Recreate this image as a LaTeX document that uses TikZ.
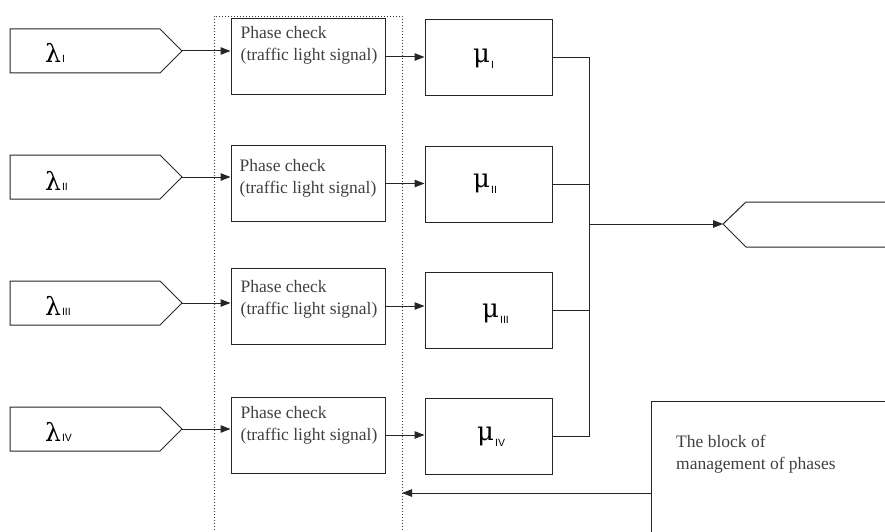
\documentclass[tikz,border=0pt]{standalone}
\usepackage{fontspec}
\setmainfont{Liberation Serif}
\newfontfamily\idxfont{Liberation Sans}
\newfontfamily\grkfont{DejaVu Serif}
\usetikzlibrary{arrows.meta}

% flow symbols with a roman index
\newcommand{\lamidx}[1]{{\grkfont\fontsize{25}{25}\selectfont λ}\kern1pt{\idxfont\fontsize{10.5}{10.5}\selectfont #1}}
\newcommand{\muidx}[1]{{\grkfont\fontsize{26}{26}\selectfont μ}\kern1pt\raisebox{-6pt}{\idxfont\fontsize{10.5}{10.5}\selectfont #1}}

\begin{document}
\begin{tikzpicture}[x=1pt, y=-1pt,
    line/.style={draw=black!85, line width=1pt},
    arr/.style={line, -{Triangle[length=10pt,width=7.5pt]}},
    box/.style={line, minimum height=76pt, inner sep=0},
    phbox/.style={box, minimum width=154pt},
    mubox/.style={box, minimum width=127pt},
    note/.style={anchor=north west, align=left, inner sep=0, text=black!75,
                 font=\fontsize{17.5}{22}\selectfont},
    sym/.style={anchor=base west, inner sep=0}]
  \clip (0,0) rectangle (885,532);

  % input flows
  \draw[line] (10,29) -- (160,29) -- (182,51) -- (160,73) -- (10,73) -- cycle;
  \draw[line] (10,155) -- (160,155) -- (182,177) -- (160,199) -- (10,199) -- cycle;
  \draw[line] (10,281) -- (160,281) -- (182,303) -- (160,325) -- (10,325) -- cycle;
  \draw[line] (10,407) -- (160,407) -- (182,429) -- (160,451) -- (10,451) -- cycle;
  \coordinate (in1) at (182,51);
  \coordinate (in2) at (182,177);
  \coordinate (in3) at (182,303);
  \coordinate (in4) at (182,429);
  \node[sym] (lam1) at (45,63) {\lamidx{I}};
  \node[sym] (lam2) at (45,190) {\lamidx{II}};
  \node[sym] (lam3) at (45,315) {\lamidx{III}};
  \node[sym] (lam4) at (45,441) {\lamidx{IV}};

  % dotted frame round the checks
  \draw[black!80, line width=0.8pt, dash pattern=on 1.2pt off 1.8pt]
    (214,545) -- (214,16) -- (402,16) -- (402,545);

  % phase checks
  \node[phbox] (ph1) at (308,57) {};
  \node[phbox] (ph2) at (308,183.5) {};
  \node[phbox] (ph3) at (308,306) {};
  \node[phbox] (ph4) at (308,435) {};
  \node[note] (ph1txt) at ([shift={(10,8)}]ph1.north west) {Phase check\\(traffic light signal)};
  \node[note] (ph2txt) at ([shift={(9,14)}]ph2.north west) {Phase check\\(traffic light signal)};
  \node[note] (ph3txt) at ([shift={(10,13)}]ph3.north west) {Phase check\\(traffic light signal)};
  \node[note] (ph4txt) at ([shift={(10,10)}]ph4.north west) {Phase check\\(traffic light signal)};

  % service blocks
  \node[mubox] (mu1) at (488.5,58) {};
  \node[mubox] (mu2) at (488.5,184) {};
  \node[mubox] (mu3) at (488.5,310.5) {};
  \node[mubox] (mu4) at (488.5,436) {};
  \node[sym] (mu1txt) at (473,63) {\muidx{I}};
  \node[sym] (mu2txt) at (473,187) {\muidx{II}};
  \node[sym] (mu3txt) at (482,317) {\muidx{III}};
  \node[sym] (mu4txt) at (477,440) {\muidx{IV}};

  \draw[arr] (in1) -- (ph1.west |- in1);
  \draw[arr] (in2) -- (ph2.west |- in2);
  \draw[arr] (in3) -- (ph3.west |- in3);
  \draw[arr] (in4) -- (ph4.west |- in4);
  \draw[arr] (ph1.east) -- (ph1.east -| mu1.west);
  \draw[arr] (ph2.east) -- (ph2.east -| mu2.west);
  \draw[arr] (ph3.east) -- (ph3.east -| mu3.west);
  \draw[arr] (ph4.east) -- (ph4.east -| mu4.west);

  % joining bus and output flow
  \coordinate (bus) at (589,224);
  \draw[line] (mu1.east) -- (mu1.east -| bus) -- (mu4.east -| bus) -- (mu4.east);
  \draw[line] (mu2.east) -- (mu2.east -| bus);
  \draw[line] (mu3.east) -- (mu3.east -| bus);
  \draw[line] (900,202) -- (746,202) -- (723,224) -- (746,247) -- (900,247);
  \coordinate (out) at (723,224);
  \draw[arr] (bus) -- (out);

  % phase management
  \node[line, anchor=north west, minimum width=260pt, minimum height=150pt] (mgmt) at (651,401) {};
  \node[note] (mgmttxt) at (676,435) {The block of\\management of phases};
  \coordinate (fence) at (402,493);
  \draw[arr] (mgmt.west |- fence) -- (fence);
\end{tikzpicture}
\end{document}
